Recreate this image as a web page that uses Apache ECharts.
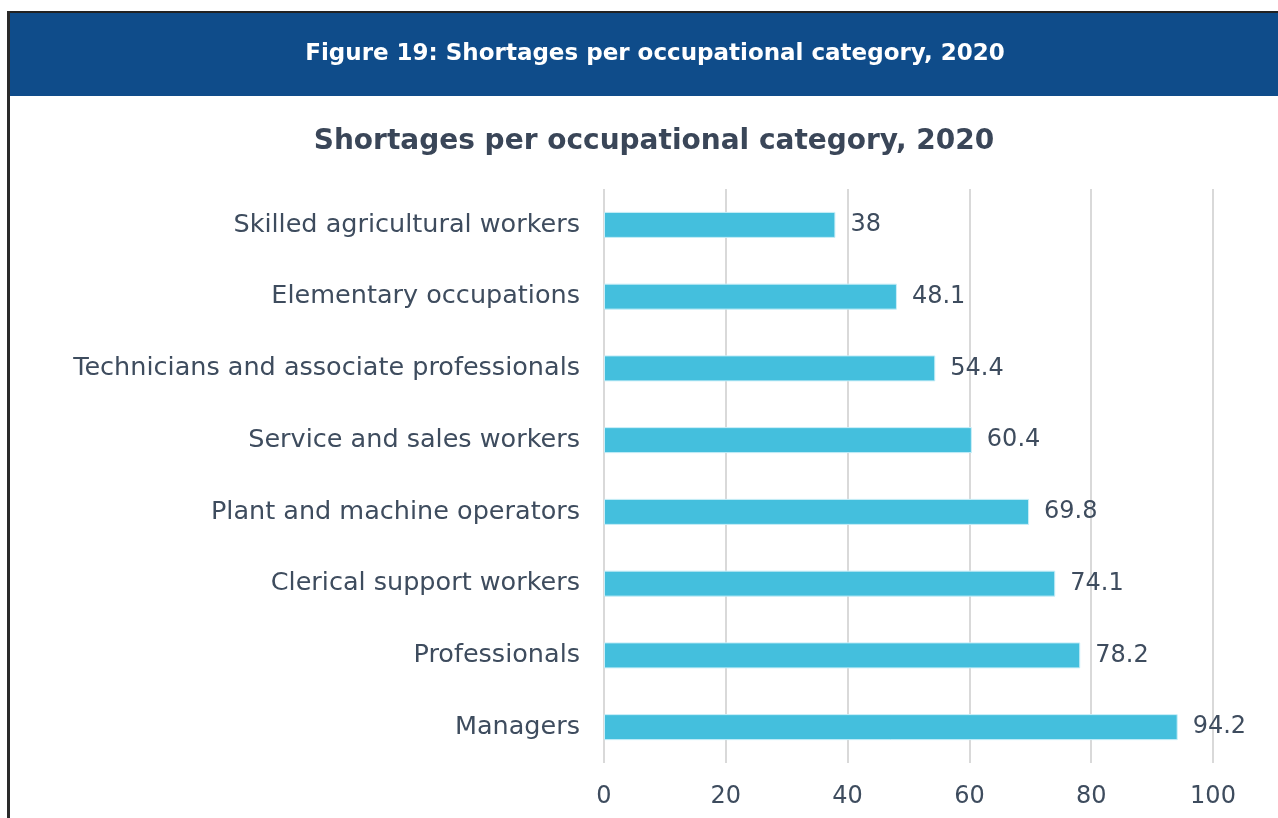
<!DOCTYPE html>
<html><head><meta charset="utf-8">
<script src="https://cdn.jsdelivr.net/npm/echarts@6/dist/echarts.min.js"></script>
<style>html,body{margin:0;padding:0;background:#fff}#c{width:1278px;height:818px}</style>
</head><body><div id="c"></div>
<script>
const categories = ["Skilled agricultural workers","Elementary occupations","Technicians and associate professionals","Service and sales workers","Plant and machine operators","Clerical support workers","Professionals","Managers"];
const values = [38, 48.1, 54.4, 60.4, 69.8, 74.1, 78.2, 94.2];
const xTicks = [0, 20, 40, 60, 80, 100];

const chart = echarts.init(document.getElementById('c'));
const txt = '#3e4c5e';
const ff = '"DejaVu Sans", sans-serif';
chart.setOption({
  animation: false,
  graphic: [
    {type:'rect', shape:{x:8,y:11,width:1270,height:2}, style:{fill:'#222'}},
    {type:'rect', shape:{x:8,y:13,width:1270,height:83}, style:{fill:'#0f4c8a'}},
    {type:'rect', shape:{x:7,y:11,width:3,height:807}, style:{fill:'#2a2a2a'}}
  ],
  title: [
    {text:'Figure 19: Shortages per occupational category, 2020', left:650, top:38, textAlign:'center',
     textStyle:{color:'#fff', fontSize:23, fontWeight:'bold', fontFamily:'"DejaVu Sans", sans-serif'}},
    {text:'Shortages per occupational category, 2020', left:649, top:123, textAlign:'center',
     textStyle:{color:'#3a4658', fontSize:28, fontWeight:'bold', fontFamily:'"DejaVu Sans", sans-serif'}}
  ],
  grid: {left:604, right:65, top:189, bottom:55, containLabel:false},
  xAxis: {type:'value', min:0, max:100, interval:20,
    axisLine:{show:false}, axisTick:{show:false},
    splitLine:{lineStyle:{color:'#d9d9d9', width:2}},
    axisLabel:{color:txt, fontSize:24, fontFamily:ff, margin:22,
      formatter: v => xTicks.includes(v) ? String(v) : ''}},
  yAxis: {type:'category', data:categories, inverse:true,
    axisLine:{show:false}, axisTick:{show:false},
    axisLabel:{color:txt, fontSize:25.5, fontFamily:ff, margin:24}},
  series: [{type:'bar', data:values, barWidth:26,
    itemStyle:{color:'#44bfdd', borderColor:'#c9eef8', borderWidth:1},
    label:{show:true, position:'right', distance:15, color:txt, fontSize:24, fontFamily:ff}}]
});
</script></body></html>
